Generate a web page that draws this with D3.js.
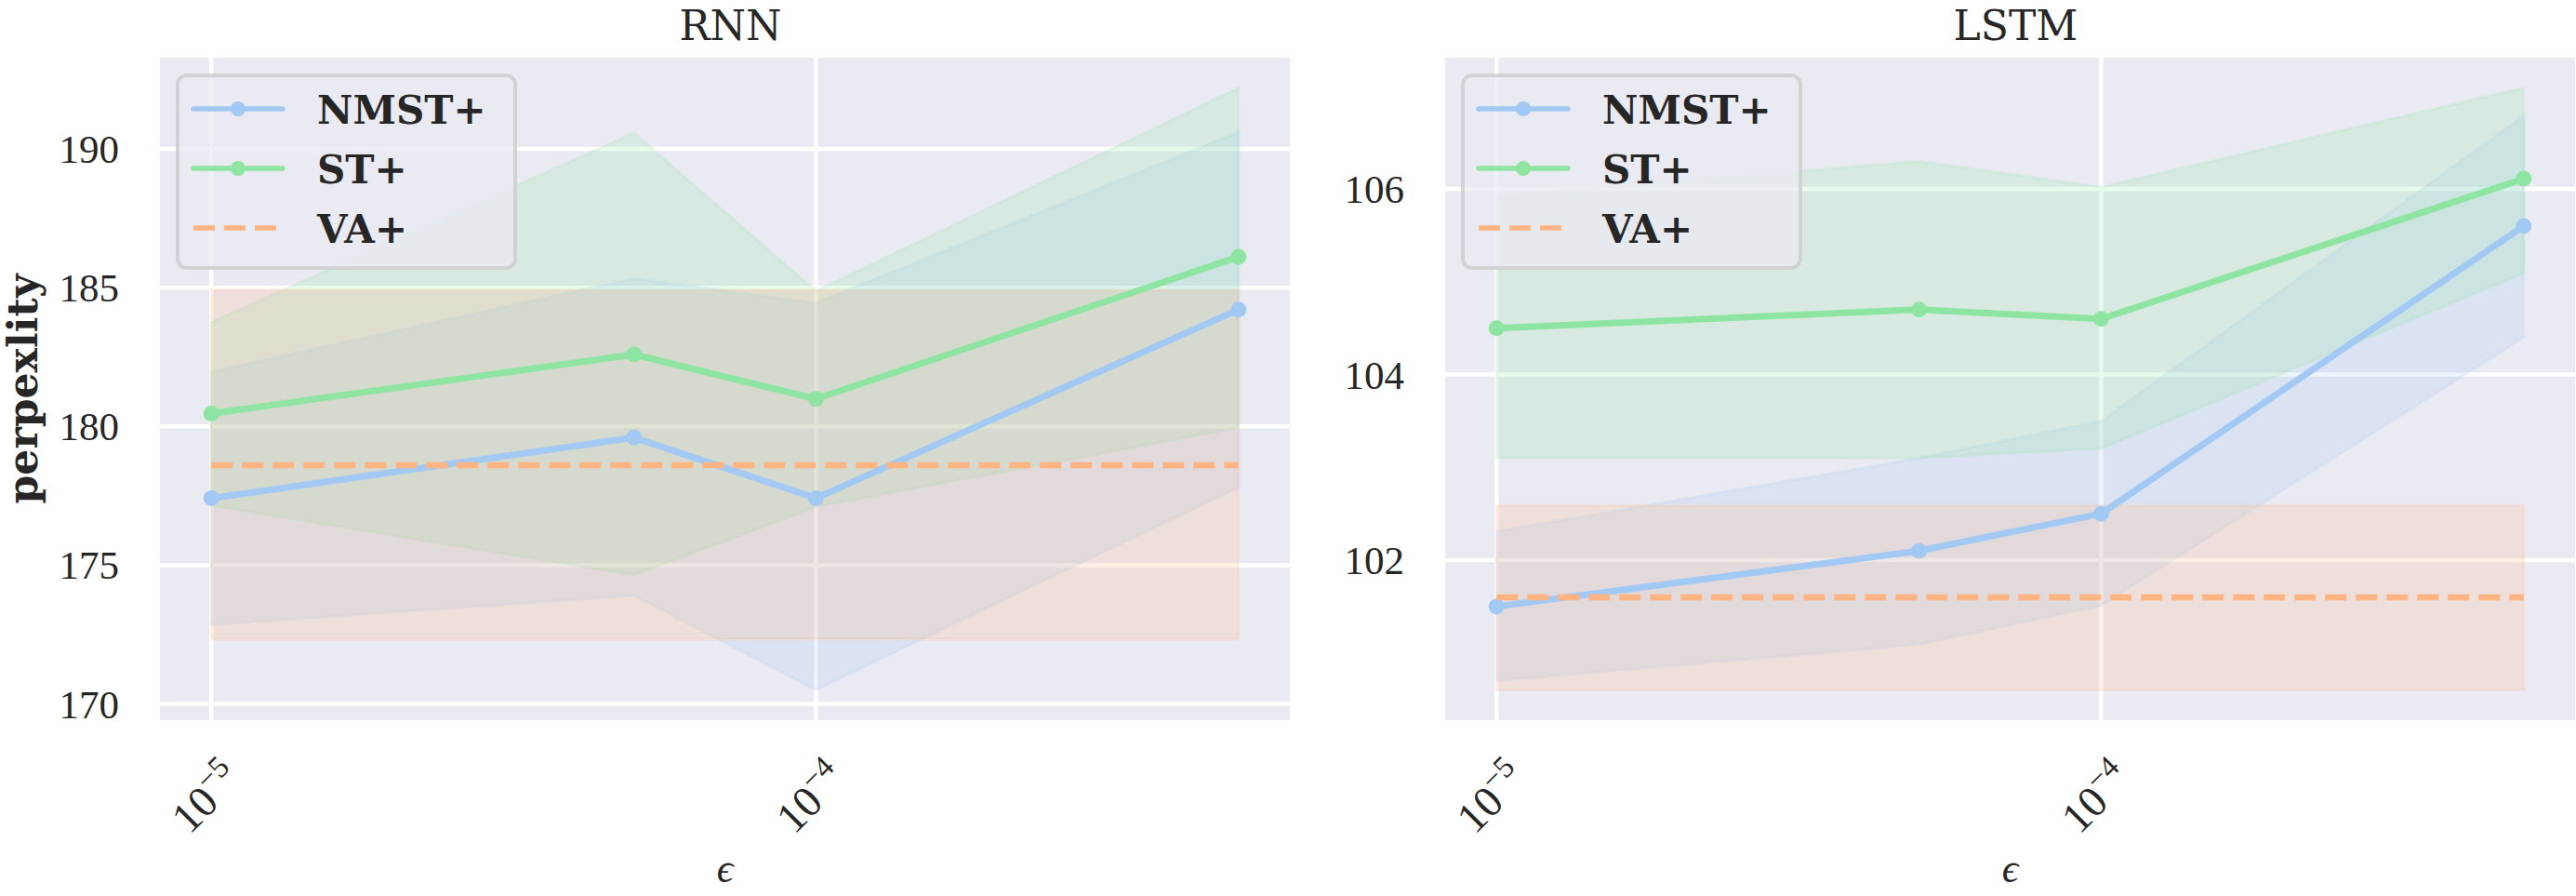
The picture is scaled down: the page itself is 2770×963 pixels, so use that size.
<!DOCTYPE html>
<html>
<head>
<meta charset="utf-8">
<script src="https://cdn.jsdelivr.net/npm/d3@7/dist/d3.min.js"></script>
<style>
  html, body { margin: 0; padding: 0; background: #ffffff; }
  svg { display: block; }
</style>
</head>
<body>
<div id="chart"></div>
<script>
// ---- data ----
const epsilons = [1e-5, 5e-5, 1e-4, 5e-4];
const xTickValues = [1e-5, 1e-4];
const xTickExponents = ['\u22125', '\u22124'];
const panelTitles = ['RNN', 'LSTM'];
const seriesNames = ['NMST+', 'ST+', 'VA+'];

// RNN
const rnnNmstMean = [177.41, 179.6, 177.41, 184.21];
const rnnNmstLow = [172.85, 173.9, 170.5, 177.8];
const rnnNmstHigh = [181.97, 185.33, 184.45, 190.61];
const rnnStMean = [180.46, 182.59, 180.99, 186.11];
const rnnStLow = [177.15, 174.64, 177.1, 179.95];
const rnnStHigh = [183.76, 190.58, 184.88, 192.2];
const rnnVa = [178.6, 172.33, 184.92]; // mean, low, high
const rnnYTicks = [170, 175, 180, 185, 190];

// LSTM
const lstmNmstMean = [101.5, 102.1, 102.5, 105.6];
const lstmNmstLow = [100.7, 101.09, 101.51, 104.4];
const lstmNmstHigh = [102.31, 103.1, 103.5, 106.79];
const lstmStMean = [104.5, 104.7, 104.6, 106.11];
const lstmStLow = [103.1, 103.1, 103.2, 105.09];
const lstmStHigh = [105.92, 106.3, 106.02, 107.09];
const lstmVa = [101.6, 100.6, 102.59];
const lstmYTicks = [102, 104, 106];

// ---- layout / style ----
const WIDTH = 2770, HEIGHT = 963;
const PLOT_TOP = 62, PLOT_H = 712, PLOT_W = 1215;
const PLOT_LEFTS = [172, 1554];
const BG = '#eaeaf2', TEXT = '#262626';
const COLORS = ['#a1c9f4', '#8de5a1', '#ffb482'];
const SERIF = "'Liberation Serif', serif";
const WIDE_SERIF = "'DejaVu Serif', serif";

const panels = [
  { title: panelTitles[0], left: PLOT_LEFTS[0], yTicks: rnnYTicks,
    series: [
      { mean: rnnNmstMean, low: rnnNmstLow, high: rnnNmstHigh },
      { mean: rnnStMean, low: rnnStLow, high: rnnStHigh }
    ], va: rnnVa },
  { title: panelTitles[1], left: PLOT_LEFTS[1], yTicks: lstmYTicks,
    series: [
      { mean: lstmNmstMean, low: lstmNmstLow, high: lstmNmstHigh },
      { mean: lstmStMean, low: lstmStLow, high: lstmStHigh }
    ], va: lstmVa }
];

const svg = d3.select('#chart').append('svg')
  .attr('width', WIDTH)
  .attr('height', HEIGHT)
  .attr('viewBox', `0 0 ${WIDTH} ${HEIGHT}`);

// log x with matplotlib-like 5% margins
const logMin = Math.log10(d3.min(epsilons));
const logMax = Math.log10(d3.max(epsilons));
const xPad = (logMax - logMin) * 0.05;
const xScale = d3.scaleLog()
  .domain([Math.pow(10, logMin - xPad), Math.pow(10, logMax + xPad)])
  .range([0, PLOT_W]);

panels.forEach((p, pi) => {
  const allLow = d3.min([...p.series.flatMap(s => s.low), p.va[1]]);
  const allHigh = d3.max([...p.series.flatMap(s => s.high), p.va[2]]);
  const yPad = (allHigh - allLow) * 0.05;
  const y = d3.scaleLinear()
    .domain([allLow - yPad, allHigh + yPad])
    .range([PLOT_H, 0]);

  const g = svg.append('g')
    .attr('transform', `translate(${p.left}, ${PLOT_TOP})`);

  // background
  g.append('rect')
    .attr('width', PLOT_W)
    .attr('height', PLOT_H)
    .attr('fill', BG);

  // grid
  g.selectAll('.hgrid').data(p.yTicks).enter().append('line')
    .attr('x1', 0).attr('x2', PLOT_W)
    .attr('y1', d => y(d)).attr('y2', d => y(d))
    .attr('stroke', '#ffffff').attr('stroke-width', 4.5);
  g.selectAll('.vgrid').data(xTickValues).enter().append('line')
    .attr('y1', 0).attr('y2', PLOT_H)
    .attr('x1', d => xScale(d)).attr('x2', d => xScale(d))
    .attr('stroke', '#ffffff').attr('stroke-width', 4.5);

  // confidence bands
  const area = d3.area()
    .x(d => xScale(d.x))
    .y0(d => y(d.lo))
    .y1(d => y(d.hi));

  p.series.forEach((s, si) => {
    const pts = epsilons.map((e, i) => ({ x: e, lo: s.low[i], hi: s.high[i] }));
    g.append('path')
      .datum(pts)
      .attr('d', area)
      .attr('fill', COLORS[si])
      .attr('fill-opacity', 0.2)
      .attr('stroke', COLORS[si])
      .attr('stroke-opacity', 0.15)
      .attr('stroke-width', 3);
  });
  const vaPts = [epsilons[0], epsilons[epsilons.length - 1]]
    .map(e => ({ x: e, lo: p.va[1], hi: p.va[2] }));
  g.append('path')
    .datum(vaPts)
    .attr('d', area)
    .attr('fill', COLORS[2])
    .attr('fill-opacity', 0.2)
    .attr('stroke', COLORS[2])
    .attr('stroke-opacity', 0.15)
    .attr('stroke-width', 3);

  // mean lines with markers
  const line = d3.line()
    .x(d => xScale(d.x))
    .y(d => y(d.v));

  p.series.forEach((s, si) => {
    const pts = epsilons.map((e, i) => ({ x: e, v: s.mean[i] }));
    g.append('path')
      .datum(pts)
      .attr('d', line)
      .attr('fill', 'none')
      .attr('stroke', COLORS[si])
      .attr('stroke-width', 7)
      .attr('stroke-linejoin', 'round')
      .attr('stroke-linecap', 'round');
    g.selectAll(null).data(pts).enter().append('circle')
      .attr('cx', d => xScale(d.x))
      .attr('cy', d => y(d.v))
      .attr('r', 8.5)
      .attr('fill', COLORS[si]);
  });

  // VA+ dashed baseline
  g.append('path')
    .datum([epsilons[0], epsilons[epsilons.length - 1]].map(e => ({ x: e, v: p.va[0] })))
    .attr('d', line)
    .attr('fill', 'none')
    .attr('stroke', COLORS[2])
    .attr('stroke-width', 6.5)
    .attr('stroke-dasharray', '23,10');

  // y tick labels
  g.selectAll('.ylab').data(p.yTicks).enter().append('text')
    .attr('x', -44)
    .attr('y', d => y(d) + 15)
    .attr('text-anchor', 'end')
    .attr('font-family', SERIF)
    .attr('font-size', 43)
    .attr('fill', TEXT)
    .text(d => d);

  // x tick labels (rotated 10^k)
  xTickValues.forEach((t, ti) => {
    const lab = g.append('text')
      .attr('transform', `translate(${xScale(t) - 5}, ${858 - PLOT_TOP}) rotate(-45)`)
      .attr('text-anchor', 'middle')
      .attr('font-family', SERIF)
      .attr('fill', TEXT);
    lab.append('tspan').attr('font-size', 47).attr('dy', 15).text('10');
    lab.append('tspan').attr('font-size', 33).attr('dy', -19).text(xTickExponents[ti]);
  });

  // title
  g.append('text')
    .attr('x', PLOT_W / 2 + 6)
    .attr('y', 43 - PLOT_TOP)
    .attr('text-anchor', 'middle')
    .attr('font-family', WIDE_SERIF)
    .attr('font-size', 44)
    .attr('fill', TEXT)
    .text(p.title);

  // x axis label
  g.append('text')
    .attr('x', PLOT_W / 2)
    .attr('y', 948 - PLOT_TOP)
    .attr('text-anchor', 'middle')
    .attr('font-family', SERIF)
    .attr('font-style', 'italic')
    .attr('font-size', 44)
    .attr('fill', TEXT)
    .text('\u03F5');

  // legend
  const leg = g.append('g').attr('transform', 'translate(19, 19)');
  leg.append('rect')
    .attr('width', 363)
    .attr('height', 207)
    .attr('rx', 10)
    .attr('fill', BG)
    .attr('fill-opacity', 0.8)
    .attr('stroke', '#cccccc')
    .attr('stroke-opacity', 0.8)
    .attr('stroke-width', 4);
  seriesNames.forEach((name, i) => {
    const cy = 36 + i * 64;
    leg.append('line')
      .attr('x1', 17).attr('x2', 113)
      .attr('y1', cy).attr('y2', cy)
      .attr('stroke', COLORS[i])
      .attr('stroke-width', 5.5)
      .attr('stroke-linecap', i === 2 ? 'butt' : 'round')
      .attr('stroke-dasharray', i === 2 ? '23,10' : null);
    if (i < 2) {
      leg.append('circle')
        .attr('cx', 65).attr('cy', cy).attr('r', 8)
        .attr('fill', COLORS[i]);
    }
    leg.append('text')
      .attr('x', 150)
      .attr('y', cy + 16)
      .attr('font-family', WIDE_SERIF)
      .attr('font-weight', 'bold')
      .attr('font-size', 42)
      .attr('fill', TEXT)
      .text(name);
  });

  // y axis label on the first panel only
  if (pi === 0) {
    svg.append('text')
      .attr('transform', `translate(40, ${PLOT_TOP + PLOT_H / 2}) rotate(-90)`)
      .attr('text-anchor', 'middle')
      .attr('font-family', WIDE_SERIF)
      .attr('font-weight', 'bold')
      .attr('font-size', 44)
      .attr('textLength', 247)
      .attr('lengthAdjust', 'spacing')
      .attr('fill', TEXT)
      .text('perpexlity');
  }
});
</script>
</body>
</html>
